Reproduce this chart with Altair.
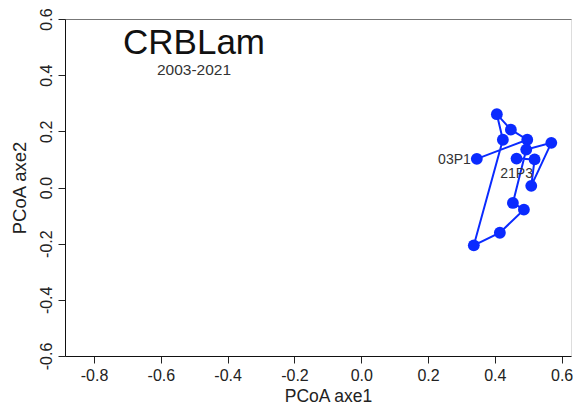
import altair as alt
import pandas as pd

# Trajectory points (PCoA axe1, PCoA axe2), in path order
pcoa1 = [0.346, 0.497, 0.448, 0.406, 0.424, 0.337, 0.415, 0.487, 0.454, 0.494, 0.569, 0.509, 0.519, 0.465]
pcoa2 = [0.102, 0.170, 0.206, 0.261, 0.170, -0.206, -0.161, -0.079, -0.055, 0.135, 0.159, 0.006, 0.100, 0.103]
labels = ["03P1"] + [""] * 12 + ["21P3"]
x_ticks = [-0.8, -0.6, -0.4, -0.2, 0.0, 0.2, 0.4, 0.6]
y_ticks = [-0.6, -0.4, -0.2, 0.0, 0.2, 0.4, 0.6]

df = pd.DataFrame({"x": pcoa1, "y": pcoa2, "lab": labels, "order": list(range(len(pcoa1)))})

FONT = "Liberation Sans"
BLUE = "#0a2aff"
INK = "#222"
lab_expr = "datum.value < -1e-9 ? '-' + format(-datum.value, '.1f') : format(abs(datum.value), '.1f')"

xs = alt.Scale(domain=[-0.887, 0.628], nice=False, zero=False)
ys = alt.Scale(domain=[-0.6, 0.6], nice=False, zero=False)

x_main = alt.X("x:Q", scale=xs, title="PCoA axe1",
               axis=alt.Axis(orient="bottom", values=x_ticks, labelExpr=lab_expr, grid=False,
                             domain=True, domainColor="#111", domainWidth=1,
                             tickSize=7, labelPadding=4, titlePadding=4, titleX=263,
                             labelFontSize=16, titleFontSize=17.5, labelFont=FONT, titleFont=FONT,
                             labelColor=INK, titleColor=INK, tickColor=INK,
                             titleFontWeight="normal", labelFlush=False))
x_plain = alt.X("x:Q", scale=xs, axis=None)
x_top = alt.X("x:Q", scale=xs, title=None,
              axis=alt.Axis(orient="top", labels=False, ticks=False, grid=False,
                            domain=True, domainColor="#777", domainWidth=1))
yenc = alt.Y("y:Q", scale=ys, title="PCoA axe2",
             axis=alt.Axis(values=y_ticks, labelExpr=lab_expr, grid=False,
                           domain=True, domainColor="#111", domainWidth=1,
                           tickSize=7, labelPadding=4, titlePadding=9,
                           labelAngle=270, labelAlign="center", labelBaseline="bottom",
                           labelFontSize=16, titleFontSize=18.5, labelFont=FONT, titleFont=FONT,
                           labelColor=INK, titleColor=INK, tickColor=INK,
                           titleFontWeight="normal", labelFlush=False))

base = alt.Chart(df)
frame_top = base.mark_point(opacity=0).encode(x=x_top, y=yenc)
line = base.mark_line(color=BLUE, strokeWidth=2).encode(x=x_main, y=yenc, order="order:Q")
pts = base.mark_point(filled=True, size=140, color=BLUE, opacity=1).encode(x=x_plain, y=yenc)
lab_first = base.transform_filter("datum.lab == '03P1'").mark_text(
    align="right", baseline="middle", dx=-6, dy=1, fontSize=14, font=FONT, color="#333"
).encode(x=x_plain, y=yenc, text="lab:N")
lab_last = base.transform_filter("datum.lab == '21P3'").mark_text(
    align="center", baseline="middle", dy=15, fontSize=14, font=FONT, color="#333"
).encode(x=x_plain, y=yenc, text="lab:N")

chart = alt.layer(frame_top, line, pts, lab_first, lab_last).resolve_axis(x="independent").properties(
    width=506, height=337,
    autosize=alt.AutoSizeParams(type="none"),
    padding={"left": 57, "top": 11, "right": 2, "bottom": 50},
    title=alt.TitleParams(text="CRBLam", subtitle="2003-2021", anchor="middle", frame="group",
                          align="center", dx=-124, dy=71, offset=0,
                          fontSize=35, font=FONT, fontWeight="normal", color="#111",
                          subtitleFontSize=15.5, subtitleFont=FONT, subtitleColor="#333",
                          subtitlePadding=2),
).configure_view(stroke=None).configure(background="white")

chart.save("out.html", embed_options={"renderer": "svg", "actions": False})
